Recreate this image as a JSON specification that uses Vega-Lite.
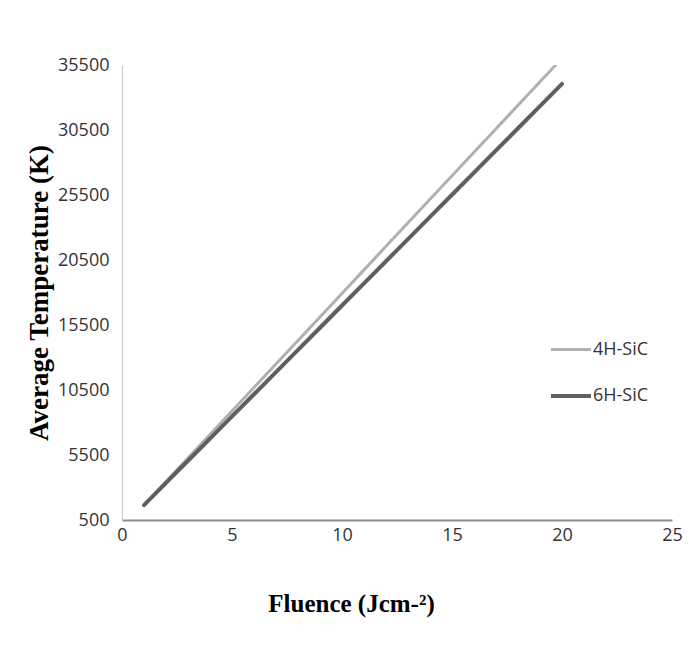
{
  "$schema": "https://vega.github.io/schema/vega-lite/v6.json",
  "width": 550,
  "height": 455,
  "autosize": {"type": "none"},
  "padding": {"left": 122, "top": 65, "right": 19, "bottom": 128},
  "background": "white",
  "config": {
    "view": {"stroke": null},
    "font": "Open Sans"
  },
  "data": {
    "values": [
      {"fluence": 1, "series": "4H-SiC", "temp": 1650},
      {"fluence": 2, "series": "4H-SiC", "temp": 3460},
      {"fluence": 3, "series": "4H-SiC", "temp": 5270},
      {"fluence": 4, "series": "4H-SiC", "temp": 7080},
      {"fluence": 5, "series": "4H-SiC", "temp": 8890},
      {"fluence": 6, "series": "4H-SiC", "temp": 10700},
      {"fluence": 7, "series": "4H-SiC", "temp": 12500},
      {"fluence": 8, "series": "4H-SiC", "temp": 14310},
      {"fluence": 9, "series": "4H-SiC", "temp": 16120},
      {"fluence": 10, "series": "4H-SiC", "temp": 17930},
      {"fluence": 11, "series": "4H-SiC", "temp": 19740},
      {"fluence": 12, "series": "4H-SiC", "temp": 21550},
      {"fluence": 13, "series": "4H-SiC", "temp": 23360},
      {"fluence": 14, "series": "4H-SiC", "temp": 25170},
      {"fluence": 15, "series": "4H-SiC", "temp": 26980},
      {"fluence": 16, "series": "4H-SiC", "temp": 28790},
      {"fluence": 17, "series": "4H-SiC", "temp": 30600},
      {"fluence": 18, "series": "4H-SiC", "temp": 32400},
      {"fluence": 19, "series": "4H-SiC", "temp": 34210},
      {"fluence": 20, "series": "4H-SiC", "temp": 36020},
      {"fluence": 1, "series": "6H-SiC", "temp": 1650},
      {"fluence": 2, "series": "6H-SiC", "temp": 3355},
      {"fluence": 3, "series": "6H-SiC", "temp": 5060},
      {"fluence": 4, "series": "6H-SiC", "temp": 6765},
      {"fluence": 5, "series": "6H-SiC", "temp": 8470},
      {"fluence": 6, "series": "6H-SiC", "temp": 10175},
      {"fluence": 7, "series": "6H-SiC", "temp": 11880},
      {"fluence": 8, "series": "6H-SiC", "temp": 13585},
      {"fluence": 9, "series": "6H-SiC", "temp": 15290},
      {"fluence": 10, "series": "6H-SiC", "temp": 17000},
      {"fluence": 11, "series": "6H-SiC", "temp": 18700},
      {"fluence": 12, "series": "6H-SiC", "temp": 20405},
      {"fluence": 13, "series": "6H-SiC", "temp": 22110},
      {"fluence": 14, "series": "6H-SiC", "temp": 23815},
      {"fluence": 15, "series": "6H-SiC", "temp": 25520},
      {"fluence": 16, "series": "6H-SiC", "temp": 27225},
      {"fluence": 17, "series": "6H-SiC", "temp": 28930},
      {"fluence": 18, "series": "6H-SiC", "temp": 30635},
      {"fluence": 19, "series": "6H-SiC", "temp": 32340},
      {"fluence": 20, "series": "6H-SiC", "temp": 34045}
    ]
  },
  "mark": {"type": "line", "clip": true, "strokeCap": "round", "strokeJoin": "round"},
  "encoding": {
    "x": {
      "field": "fluence",
      "type": "quantitative",
      "scale": {"domain": [0, 25], "nice": false, "zero": false},
      "axis": {
        "values": [0, 5, 10, 15, 20, 25],
        "title": "Fluence (Jcm-²)",
        "grid": false,
        "ticks": false,
        "domainColor": "#8a8a8a",
        "domainWidth": 2,
        "labelFont": "Open Sans",
        "labelFontSize": 18,
        "labelColor": "#333333",
        "labelPadding": 6,
        "labelFlush": false,
        "titleFont": "Liberation Serif",
        "titleFontWeight": "bold",
        "titleFontSize": 25,
        "titleColor": "#000000",
        "titleX": 229,
        "titlePadding": 47
      }
    },
    "y": {
      "field": "temp",
      "type": "quantitative",
      "scale": {"domain": [500, 35500], "nice": false, "zero": false},
      "axis": {
        "values": [500, 5500, 10500, 15500, 20500, 25500, 30500, 35500],
        "format": "d",
        "title": "Average Temperature (K)",
        "grid": false,
        "ticks": false,
        "domainColor": "#c4c4c4",
        "domainWidth": 1,
        "labelFont": "Open Sans",
        "labelFontSize": 18,
        "labelColor": "#333333",
        "labelPadding": 13,
        "labelFlush": false,
        "titleFont": "Liberation Serif",
        "titleFontWeight": "bold",
        "titleFontSize": 27,
        "titleColor": "#000000",
        "titlePadding": 4
      }
    },
    "color": {
      "field": "series",
      "type": "nominal",
      "scale": {"domain": ["4H-SiC", "6H-SiC"], "range": ["#b0b0b0", "#5f5f5f"]},
      "legend": {
        "orient": "none",
        "legendX": 427,
        "legendY": 263,
        "title": null,
        "symbolType": "stroke",
        "symbolSize": 1600,
        "labelOffset": 0,
        "labelFont": "Open Sans",
        "labelFontSize": 18,
        "labelColor": "#333333",
        "rowPadding": 15
      }
    },
    "strokeWidth": {
      "field": "series",
      "type": "nominal",
      "scale": {"domain": ["4H-SiC", "6H-SiC"], "range": [3, 4]},
      "legend": null
    }
  }
}
